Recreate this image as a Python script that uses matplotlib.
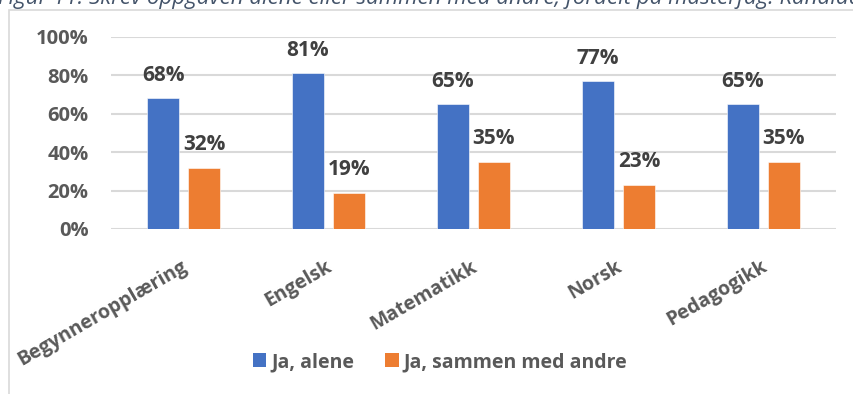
import matplotlib
matplotlib.use("Agg")
import matplotlib.pyplot as plt
from matplotlib.patches import Patch, Rectangle
from matplotlib.ticker import PercentFormatter
import numpy as np

categories = ["Begynneropplæring", "Engelsk", "Matematikk", "Norsk", "Pedagogikk"]
alene = [68, 81, 65, 77, 65]
sammen = [32, 19, 35, 23, 35]
series_names = ["Ja, alene", "Ja, sammen med andre"]
caption = "Figur 11: Skrev oppgaven alene eller sammen med andre, fordelt på masterfag. Kandidater"

BLUE = "#4472C4"
ORANGE = "#ED7D31"
TICK_COLOR = "#595959"
LABEL_COLOR = "#404040"
GRID_COLOR = "#D9D9D9"
FONT = ["Open Sans", "DejaVu Sans"]

plt.rcParams["font.family"] = FONT

W, H = 854, 394
fig = plt.figure(figsize=(W / 100, H / 100), dpi=100)

# plot area in pixel terms
left, right, top, bottom = 111, 836, 37, 229
ax = fig.add_axes([left / W, 1 - bottom / H, (right - left) / W, (bottom - top) / H])

x = np.arange(len(categories))
bw = 0.22
gap = 0.062
off = (bw + gap) / 2
b1 = ax.bar(x - off, alene, width=bw, color=BLUE, edgecolor="white", linewidth=0.4, zorder=3)
b2 = ax.bar(x + off, sammen, width=bw, color=ORANGE, edgecolor="white", linewidth=0.4, zorder=3)

for bars, vals in ((b1, alene), (b2, sammen)):
    for rect, v in zip(bars, vals):
        ax.annotate(f"{v}%", (rect.get_x() + rect.get_width() / 2, v),
                    xytext=(0, 12.7), textcoords="offset points",
                    ha="center", va="baseline", fontsize=15, fontweight="bold",
                    color=LABEL_COLOR)

ax.set_xlim(-0.5, len(categories) - 0.5)
ax.set_ylim(0, 100)
ax.set_yticks(np.arange(0, 101, 20))
ax.yaxis.set_major_formatter(PercentFormatter(decimals=0))
ax.yaxis.grid(True, color=GRID_COLOR, linewidth=1.5, zorder=0)
ax.set_axisbelow(True)
for s in ax.spines.values():
    s.set_visible(False)
ax.tick_params(axis="y", length=0, pad=16, labelsize=14.5, labelcolor=TICK_COLOR)
for lbl in ax.get_yticklabels():
    lbl.set_fontweight("bold")

ax.set_xticks(x - 0.02)
ax.set_xticklabels(categories, rotation=30, ha="right", va="top",
                   rotation_mode="anchor", fontsize=14, fontweight="bold",
                   color=TICK_COLOR)
ax.tick_params(axis="x", length=0, pad=20)

handles = [Patch(facecolor=BLUE), Patch(facecolor=ORANGE)]
leg = fig.legend(handles, series_names, loc="center", ncol=2,
                 bbox_to_anchor=(440 / W, 1 - 362 / H), frameon=False,
                 handlelength=0.7, handleheight=0.7, handletextpad=0.25,
                 columnspacing=1.6, prop={"family": FONT, "weight": "bold", "size": 14})
for t in leg.get_texts():
    t.set_color(TICK_COLOR)

# chart frame, running off the right and bottom edges
fig.add_artist(Rectangle((8.5 / W, -0.1), 1.2, 1 - 10 / H + 0.1,
                         transform=fig.transFigure, fill=False,
                         edgecolor=GRID_COLOR, linewidth=1.2, clip_on=False))

# caption above the chart, cut by the top edge
fig.text(-2 / W, 1 - 4 / H, caption, ha="left", va="baseline",
         fontsize=16, style="italic", color="#44546A")

fig.savefig("out.png", dpi=100)
